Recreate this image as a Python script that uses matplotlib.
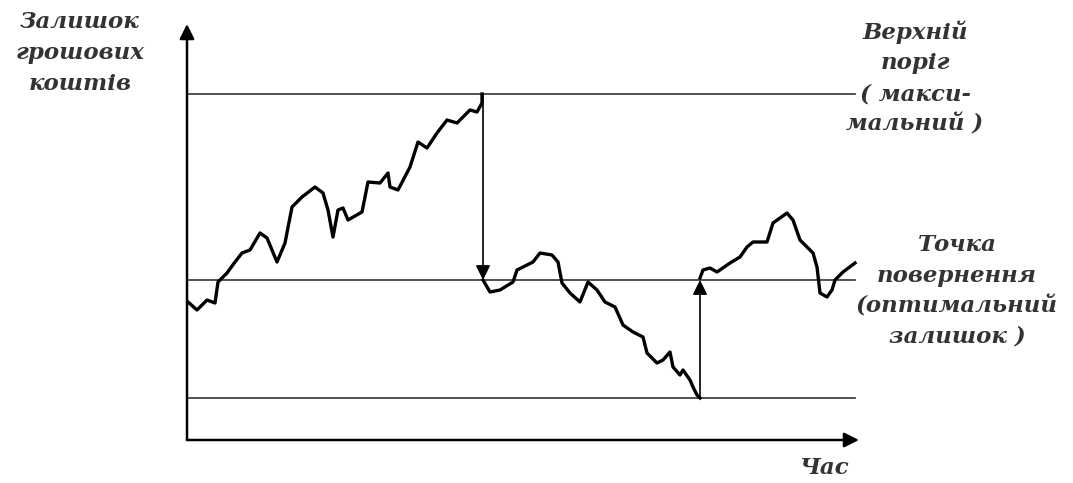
import matplotlib
matplotlib.use("Agg")
import matplotlib.pyplot as plt

# levels of the cash balance
upper_level = 346
return_level = 160
lower_level = 42

# balance path, first part (rise to the upper limit)
t1 = [1, 10, 20, 28, 31, 40, 48, 55, 63, 73, 80, 90, 98, 105, 115, 128, 136, 141, 146,
      151, 156, 161, 175, 181, 193, 201, 203, 211, 223, 231, 240, 250, 260, 270, 283,
      290, 295, 295]
b1 = [138, 130, 140, 137, 158, 167, 178, 187, 190, 207, 202, 178, 197, 233, 243, 253,
      247, 230, 203, 230, 232, 220, 228, 258, 257, 267, 253, 250, 273, 298, 292, 307,
      320, 317, 330, 328, 337, 346]

# second part (fall to the lower limit)
t2 = [296, 303, 313, 326, 330, 346, 353, 365, 371, 375, 383, 393, 401, 410, 418, 428,
      436, 446, 456, 460, 470, 476, 483, 486, 493, 496, 503, 506, 510, 513]
b2 = [160, 148, 150, 158, 170, 178, 187, 185, 178, 157, 147, 138, 158, 150, 138, 133,
      115, 108, 103, 87, 77, 80, 88, 73, 65, 70, 60, 53, 45, 42]

# third part (after replenishment)
t3 = [513, 516, 523, 530, 543, 553, 560, 566, 580, 586, 600, 606, 613, 626, 630, 633,
      640, 645, 648, 656, 668]
b3 = [162, 170, 172, 168, 177, 183, 193, 198, 198, 217, 227, 220, 200, 187, 173, 147,
      143, 150, 160, 168, 177]

t_end = 668

fig = plt.figure(figsize=(10.73, 4.83), dpi=100)
ax = fig.add_axes([0, 0, 1, 1])
ax.set_xlim(-187, 886)
ax.set_ylim(-43, 440)
ax.axis("off")

# axes with arrows
arr = dict(arrowstyle="-|>", color="black", lw=1.8, mutation_scale=22, shrinkA=0, shrinkB=0)
ax.annotate("", xy=(0, 416), xytext=(0, 0), arrowprops=arr)
ax.annotate("", xy=(672, 0), xytext=(0, 0), arrowprops=arr)

# level lines
for lev in [upper_level, return_level, lower_level]:
    ax.plot([0, t_end], [lev, lev], color="#333333", lw=1.2)

# balance path
for t, b in [(t1, b1), (t2, b2), (t3, b3)]:
    ax.plot(t, b, color="black", lw=2.4, solid_joinstyle="round")

# transfers
arr2 = dict(arrowstyle="-|>", color="black", lw=1.2, mutation_scale=22, shrinkA=0, shrinkB=0)
ax.annotate("", xy=(296, return_level), xytext=(296, upper_level), arrowprops=arr2)
ax.annotate("", xy=(513, return_level), xytext=(513, lower_level), arrowprops=arr2)

font = dict(family="DejaVu Serif", style="italic", fontweight="bold", fontsize=16.5,
            color="#333333", linespacing=1.5)
ax.text(-107, 387, "Залишок\nгрошових\nкоштів", ha="center", va="center", **font)
ax.text(728, 362, "Верхній\nпоріг\n( макси-\nмальний )", ha="center", va="center", **font)
ax.text(770, 149, "Точка\nповернення\n(оптимальний\nзалишок )", ha="center", va="center", **font)
ax.text(638, -28, "Час", ha="center", va="center", **font)

fig.savefig("out.png", dpi=100)
